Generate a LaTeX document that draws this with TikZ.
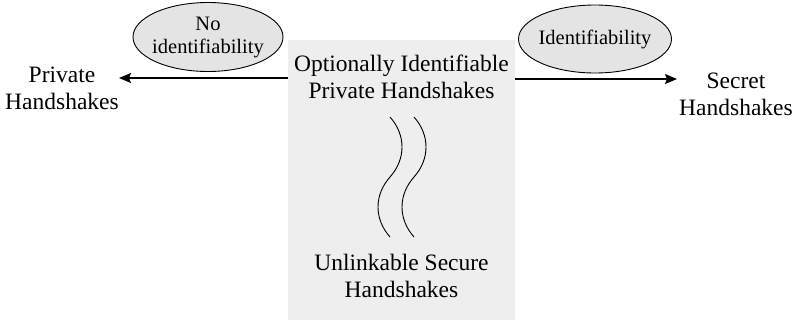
\documentclass[tikz,border=0pt]{standalone}
\usepackage{fontspec}
\setmainfont{Liberation Serif}
\usetikzlibrary{arrows.meta,shapes.geometric}
\definecolor{boxgray}{HTML}{EEEEEE}
\definecolor{ovalgray}{HTML}{E4E4E4}

\begin{document}
\begin{tikzpicture}[x=1pt,y=-1pt,
  label text/.style={align=center,font=\fontsize{23.5}{27}\selectfont},
  oval/.style={ellipse,draw,line width=0.9pt,fill=ovalgray,align=center,inner sep=-6pt,font=\fontsize{20.5}{23}\selectfont},
  flow/.style={line width=1.2pt,-{Stealth[length=12pt,width=10pt,inset=2pt]}}]
  \useasboundingbox (0,0) rectangle (794,322);

  % Middle: shaded box with the two handshake kinds
  \node[fill=boxgray,minimum width=227pt,minimum height=280pt,inner sep=0pt] (box) at (401.5,180) {};
  \node[label text] (optional) at (401.5,76.5) {Optionally Identifiable\\Private Handshakes};
  \node[label text] (unlinkable) at (401.5,276) {Unlinkable Secure\\Handshakes};

  % wavy lines between them
  \draw[line width=0.9pt] (390,117) .. controls (406,135) and (406,159) .. (390,177)
                                    .. controls (374,195) and (374,219) .. (390,237);
  \draw[line width=0.9pt] (414,117) .. controls (430,135) and (430,159) .. (414,177)
                                    .. controls (398,195) and (398,219) .. (414,237);

  % Left and right ends
  \node[label text] (private) at (62,88) {Private\\Handshakes};
  \node[label text] (secret) at (736,94) {Secret\\Handshakes};

  % Arrows out of the box
  \coordinate (lefttip) at (119,78);
  \coordinate (righttip) at (677,79);
  \draw[flow] (box.west |- lefttip) -- (lefttip);
  \draw[flow] (box.east |- righttip) -- (righttip);

  % Ovals naming the property
  \node[oval,minimum width=150pt,minimum height=69pt] (noid) at (208,37) {No\\identifiability};
  \node[oval,minimum width=153pt,minimum height=68pt] (ident) at (595,39) {Identifiability};
\end{tikzpicture}
\end{document}
